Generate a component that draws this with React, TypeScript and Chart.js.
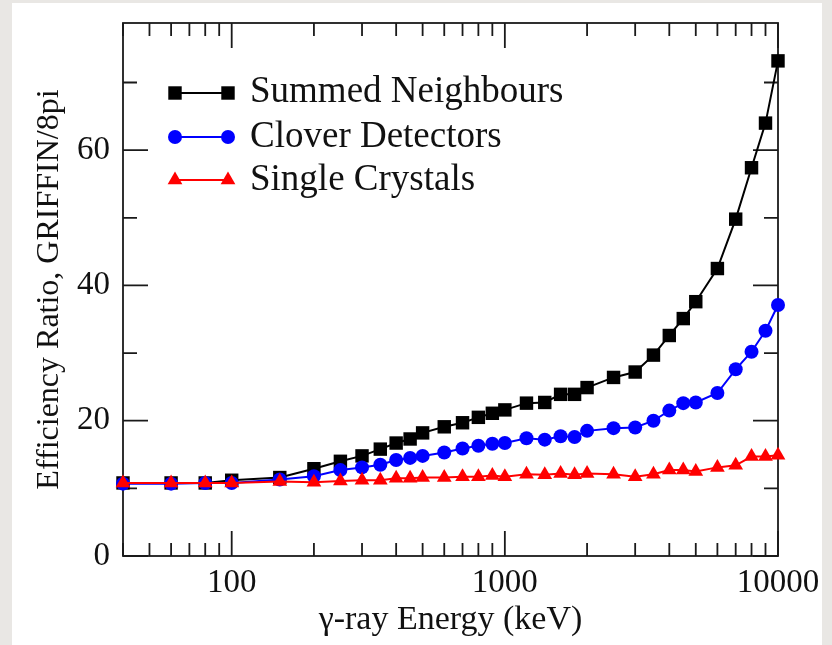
import React, { useEffect, useRef } from 'react';
import { Chart, registerables } from 'chart.js';

Chart.register(...registerables);

// ---- data ----
const energies = [40, 60, 80, 100, 150, 200, 250, 300, 350, 400, 450, 500, 600, 700, 800, 900, 1000, 1200, 1400, 1600, 1800, 2000, 2500, 3000, 3500, 4000, 4500, 5000, 6000, 7000, 8000, 9000, 10000];
const summedNeighbours = [10.8, 10.8, 10.8, 11.2, 11.6, 12.9, 14.0, 14.8, 15.8, 16.7, 17.3, 18.2, 19.1, 19.7, 20.5, 21.1, 21.6, 22.6, 22.7, 23.9, 23.9, 24.9, 26.4, 27.2, 29.7, 32.6, 35.1, 37.6, 42.5, 49.8, 57.4, 64.0, 73.2];
const cloverDetectors = [10.7, 10.7, 10.8, 10.8, 11.3, 11.8, 12.7, 13.1, 13.5, 14.2, 14.5, 14.8, 15.3, 15.9, 16.3, 16.6, 16.7, 17.4, 17.2, 17.7, 17.6, 18.5, 18.9, 19.0, 20.0, 21.5, 22.6, 22.7, 24.1, 27.6, 30.2, 33.3, 37.1];
const singleCrystals = [10.8, 10.8, 10.8, 10.8, 11.0, 10.9, 11.1, 11.2, 11.2, 11.5, 11.5, 11.6, 11.6, 11.7, 11.7, 11.9, 11.7, 12.1, 12.0, 12.2, 12.0, 12.2, 12.1, 11.7, 12.1, 12.7, 12.7, 12.5, 13.1, 13.4, 14.7, 14.7, 14.9];

const seriesNames = ['Summed Neighbours', 'Clover Detectors', 'Single Crystals'];
const seriesColors = ['#000000', '#0000ff', '#ff0000'];

const xTickValues = [40, 50, 60, 70, 80, 90, 100, 200, 300, 400, 500, 600, 700, 800, 900, 1000, 2000, 3000, 4000, 5000, 6000, 7000, 8000, 9000, 10000];
const xLabelTicks = [100, 1000, 10000];
const yTickValues = [0, 10, 20, 30, 40, 50, 60, 70];
const yLabelTicks = [0, 20, 40, 60];

const X_MIN = 40;
const X_MAX = 10000;
const Y_MIN = 0;
const Y_MAX = 78.8;

const FONT = '"Liberation Serif", "Times New Roman", serif';
const AXIS_COLOR = '#1a1a1a';

const framePlugin = {
  id: 'frameTicks',
  beforeDatasetsDraw(chart: any) {
    const { ctx, chartArea } = chart;
    const { left, right, top, bottom } = chartArea;
    const xs = chart.scales.x;
    const ys = chart.scales.y;
    ctx.save();
    ctx.strokeStyle = AXIS_COLOR;
    ctx.lineWidth = 1.8;
    ctx.strokeRect(left, top, right - left, bottom - top);
    ctx.beginPath();
    xs.ticks.forEach((t: any) => {
      const px = xs.getPixelForValue(t.value);
      const len = xLabelTicks.includes(t.value) ? 25 : 13;
      ctx.moveTo(px, bottom);
      ctx.lineTo(px, bottom - len);
      ctx.moveTo(px, top);
      ctx.lineTo(px, top + len);
    });
    ys.ticks.forEach((t: any) => {
      const py = ys.getPixelForValue(t.value);
      const len = yLabelTicks.includes(t.value) ? 25 : 14;
      ctx.moveTo(left, py);
      ctx.lineTo(left + len, py);
      ctx.moveTo(right, py);
      ctx.lineTo(right - len, py);
    });
    ctx.stroke();
    ctx.restore();
  },
};

function drawMarker(ctx: CanvasRenderingContext2D, style: string, x: number, y: number, r: number) {
  ctx.beginPath();
  if (style === 'rect') {
    const s = r * Math.SQRT1_2;
    ctx.rect(x - s, y - s, 2 * s, 2 * s);
  } else if (style === 'circle') {
    ctx.arc(x, y, r, 0, Math.PI * 2);
  } else {
    ctx.moveTo(x, y - r);
    ctx.lineTo(x + r * Math.sin(Math.PI / 3), y + r * 0.5);
    ctx.lineTo(x - r * Math.sin(Math.PI / 3), y + r * 0.5);
    ctx.closePath();
  }
  ctx.fill();
}

const legendPlugin = {
  id: 'insideLegend',
  afterDraw(chart: any) {
    const { ctx } = chart;
    const rowsMarkerY = [93, 137, 180];
    const rowsTextY = [102, 147, 190];
    const x1 = 175;
    const x2 = 228;
    const tx = 250;
    ctx.save();
    chart.data.datasets.forEach((ds: any, i: number) => {
      const y = rowsMarkerY[i];
      ctx.strokeStyle = ds.borderColor;
      ctx.lineWidth = 2;
      ctx.beginPath();
      ctx.moveTo(x1, y);
      ctx.lineTo(x2, y);
      ctx.stroke();
      ctx.fillStyle = ds.pointBackgroundColor;
      drawMarker(ctx, ds.pointStyle, x1, y, ds.pointRadius);
      drawMarker(ctx, ds.pointStyle, x2, y, ds.pointRadius);
      ctx.fillStyle = '#111';
      ctx.font = `37px ${FONT}`;
      ctx.textBaseline = 'alphabetic';
      ctx.textAlign = 'left';
      ctx.fillText(ds.label, tx, rowsTextY[i]);
    });
    ctx.restore();
  },
};

function makeDataset(label: string, values: number[], color: string, style: string, radius: number, order: number) {
  return {
    label,
    data: energies.map((e, i) => ({ x: e, y: values[i] })),
    borderColor: color,
    backgroundColor: color,
    pointBackgroundColor: color,
    pointBorderColor: color,
    pointBorderWidth: 0,
    pointStyle: style,
    pointRadius: radius,
    borderWidth: 2,
    tension: 0,
    clip: false,
    order,
  };
}

export default function App() {
  const canvasRef = useRef<HTMLCanvasElement | null>(null);

  useEffect(() => {
    const canvas = canvasRef.current;
    if (!canvas) return;
    const chart = new Chart(canvas, {
      type: 'line',
      data: {
        datasets: [
          makeDataset(seriesNames[0], summedNeighbours, seriesColors[0], 'rect', 9.5, 3),
          makeDataset(seriesNames[1], cloverDetectors, seriesColors[1], 'circle', 7, 2),
          makeDataset(seriesNames[2], singleCrystals, seriesColors[2], 'triangle', 8.5, 1),
        ] as any,
      },
      options: {
        responsive: false,
        animation: false,
        devicePixelRatio: 1,
        layout: { padding: { top: 23, right: 54, left: 0, bottom: 0 } },
        plugins: {
          legend: { display: false },
          tooltip: { enabled: false },
        },
        scales: {
          x: {
            type: 'logarithmic',
            min: X_MIN,
            max: X_MAX,
            afterBuildTicks: (s: any) => {
              s.ticks = xTickValues.map((v) => ({ value: v }));
            },
            afterFit: (s: any) => {
              s.height = 89;
              s.paddingLeft = 0;
              s.paddingRight = 0;
            },
            grid: { display: false, drawTicks: false },
            border: { display: false },
            ticks: {
              autoSkip: false,
              maxRotation: 0,
              minRotation: 0,
              padding: 8,
              color: '#111',
              font: { family: FONT, size: 33 },
              callback: (v: any) => (xLabelTicks.includes(Number(v)) ? String(v) : ''),
            },
            title: {
              display: true,
              text: 'γ-ray Energy (keV)',
              color: '#111',
              font: { family: FONT, size: 34 },
              padding: { top: 0, bottom: 5 },
            },
          },
          y: {
            type: 'linear',
            min: Y_MIN,
            max: Y_MAX,
            afterBuildTicks: (s: any) => {
              s.ticks = yTickValues.map((v) => ({ value: v }));
            },
            afterFit: (s: any) => {
              s.width = 123;
              s.paddingTop = 0;
              s.paddingBottom = 0;
            },
            grid: { display: false, drawTicks: false },
            border: { display: false },
            ticks: {
              padding: 13,
              color: '#111',
              font: { family: FONT, size: 33 },
              callback: (v: any) => (yLabelTicks.includes(Number(v)) ? String(v) : ''),
            },
            title: {
              display: true,
              text: 'Efficiency Ratio, GRIFFIN/8pi',
              color: '#111',
              font: { family: FONT, size: 32 },
              padding: { top: 30, bottom: 0 },
            },
          },
        },
      } as any,
      plugins: [framePlugin, legendPlugin],
    });
    return () => chart.destroy();
  }, []);

  return (
    <div style={{ position: 'fixed', left: 0, top: 0, width: 832, height: 645, background: '#e9e7e4', overflow: 'hidden' }}>
      <div style={{ position: 'absolute', left: 12, top: 3, width: 810, height: 642, background: '#ffffff' }} />
      <canvas ref={canvasRef} width={832} height={645} style={{ position: 'absolute', left: 0, top: 0, width: 832, height: 645 }} />
    </div>
  );
}
